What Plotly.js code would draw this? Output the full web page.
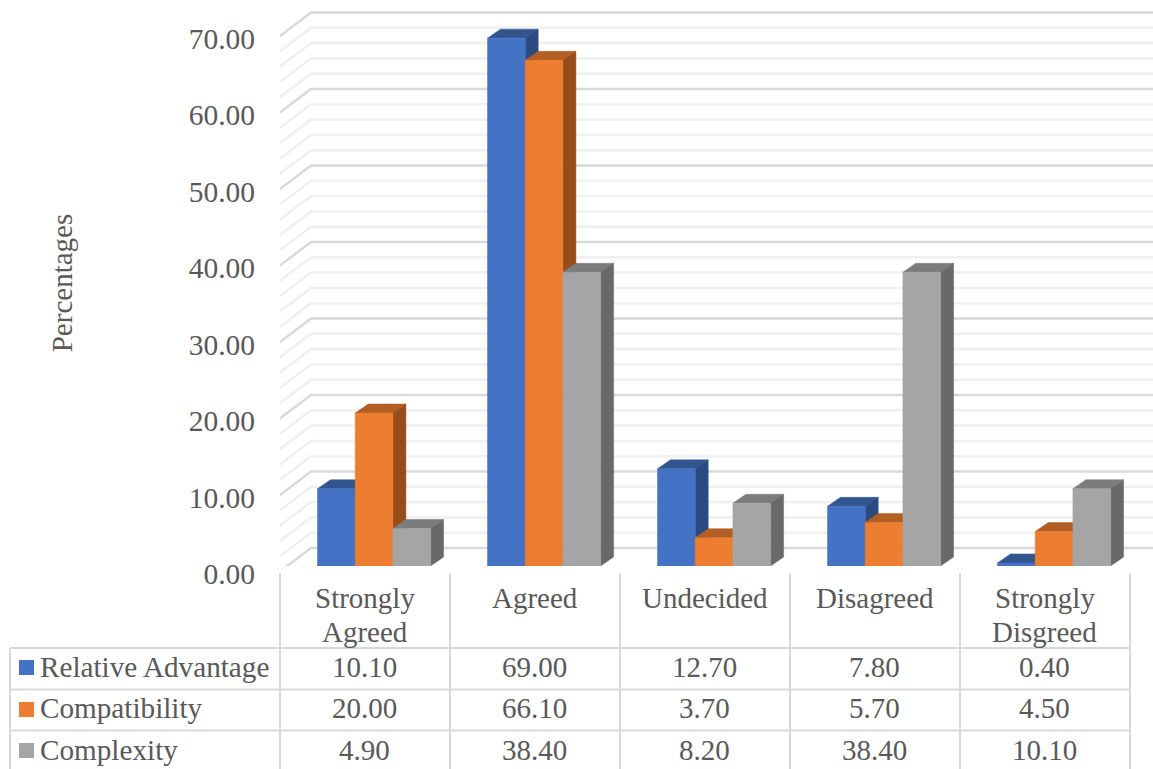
<!DOCTYPE html>
<html>
<head>
<meta charset="utf-8">
<script src="https://cdn.plot.ly/plotly-3.0.1.min.js"></script>
<style>html,body{margin:0;padding:0;background:#fff}</style>
</head>
<body>
<div id="chart" style="width:1153px;height:769px"></div>
<script>
// Survey responses per attribute
const categoryLines = [["Strongly", "Agreed"], ["Agreed"], ["Undecided"], ["Disagreed"], ["Strongly", "Disgreed"]];
const seriesNames = ["Relative Advantage", "Compatibility", "Complexity"];
const relativeAdvantage = [10.10, 69.00, 12.70, 7.80, 0.40];
const compatibility = [20.00, 66.10, 3.70, 5.70, 4.50];
const complexity = [4.90, 38.40, 8.20, 38.40, 10.10];
const majorTicks = [0, 10, 20, 30, 40, 50, 60, 70];
const minorTicks = [2, 4, 6, 8, 12, 14, 16, 18, 22, 24, 26, 28, 32, 34, 36, 38, 42, 44, 46, 48, 52, 54, 56, 58, 62, 64, 66, 68];
const tickLabels = majorTicks.map(v => v.toFixed(2));
const frontColors = ["#4472c4", "#ed7d31", "#a5a5a5"];
const topColors = ["#325590", "#b25e24", "#7c7c7c"];
const sideColors = ["#2a4a80", "#964d1a", "#696969"];

// Plot frame in page pixels
const W = 1153, H = 769, LEFT = 280, BOTTOM = 566, COL = 170, UNIT = 7.65;
const dx = px => px / COL;
const dy = px => px / UNIT;
const xMax = (W - LEFT) / COL;
const yMax = BOTTOM / UNIT;
const xPaper = px => (px - LEFT) / (W - LEFT);
const yPaper = px => (BOTTOM - px) / BOTTOM;

// Oblique projection offsets
const barW = dx(37.7), barStart = dx(37.5), sideX = dx(13), sideY = dy(9);
const wallFrontX = dx(-2), wallBackX = dx(31), wallFrontY = dy(-7), wallBackY = dy(18);

function wallTrace(ticks, color, width) {
  const x = [], y = [];
  ticks.forEach(v => {
    x.push(wallFrontX, wallBackX, xMax, null);
    y.push(v + wallFrontY, v + wallBackY, v + wallBackY, null);
  });
  return {x, y, mode: "lines", line: {color, width}, hoverinfo: "skip", showlegend: false, cliponaxis: false};
}

function faceTrace(values, s, color, corners) {
  const x = [], y = [];
  values.forEach((v, i) => {
    const x0 = i + barStart + s * barW, x1 = x0 + barW;
    corners(x0, x1, v).forEach(p => { x.push(p[0]); y.push(p[1]); });
    x.push(null); y.push(null);
  });
  return {x, y, mode: "lines", fill: "toself", fillcolor: color, line: {color, width: 0.5},
          hoverinfo: "skip", showlegend: false, cliponaxis: false, name: seriesNames[s]};
}

const traces = [wallTrace(minorTicks, "#f0f0f0", 2.5), wallTrace(majorTicks, "#d9d9d9", 2.5)];
[relativeAdvantage, compatibility, complexity].forEach((vals, s) => {
  traces.push(faceTrace(vals, s, topColors[s], (a, b, v) => [[a, v], [b, v], [b + sideX, v + sideY], [a + sideX, v + sideY], [a, v]]));
  traces.push(faceTrace(vals, s, sideColors[s], (a, b, v) => [[b, 0], [b + sideX, sideY], [b + sideX, v + sideY], [b, v], [b, 0]]));
  traces.push(faceTrace(vals, s, frontColors[s], (a, b, v) => [[a, 0], [b, 0], [b, v], [a, v], [a, 0]]));
});

// Data table: grid, legend keys and text
const rowTops = [648, 689.5, 730.5];
const rowCentres = [667, 708.2, 749.5];
const keyCentres = [667.5, 709.5, 750.5];
const tableLine = (x0, y0, x1, y1) => ({type: "line", xref: "paper", yref: "paper",
  x0: xPaper(x0), y0: yPaper(y0), x1: xPaper(x1), y1: yPaper(y1), line: {color: "#d9d9d9", width: 2}});
const shapes = [];
for (let i = 0; i <= categoryLines.length; i++) shapes.push(tableLine(LEFT + i * COL, 573, LEFT + i * COL, H));
shapes.push(tableLine(10, rowTops[0], 10, H));
rowTops.forEach(y => shapes.push(tableLine(10, y, LEFT + categoryLines.length * COL, y)));
keyCentres.forEach((c, r) => shapes.push({type: "rect", xref: "paper", yref: "paper",
  x0: xPaper(19), x1: xPaper(34), y0: yPaper(c + 7.5), y1: yPaper(c - 7.5),
  fillcolor: frontColors[r], line: {width: 0}}));

const font = {family: "Liberation Serif, Times New Roman, serif", size: 29, color: "#595959"};
const note = (text, px, py, anchor, size) => ({text, x: xPaper(px), y: yPaper(py), xref: "paper", yref: "paper",
  xanchor: anchor || "center", yanchor: "middle", showarrow: false, font: Object.assign({}, font, {size: size || font.size})});
const annotations = [];
categoryLines.forEach((lines, i) => lines.forEach((t, k) => annotations.push(note(t, LEFT + (i + 0.5) * COL - 0.5, 598 + k * 33.5))));
seriesNames.forEach((n, r) => annotations.push(note(n, 38, rowCentres[r], "left", 29.2)));
[relativeAdvantage, compatibility, complexity].forEach((vals, r) => vals.forEach((v, i) =>
  annotations.push(note(v.toFixed(2), LEFT + (i + 0.5) * COL - 0.5, rowCentres[r]))));

const layout = {
  width: W, height: H, margin: {l: LEFT, r: 0, t: 0, b: H - BOTTOM, pad: 0},
  paper_bgcolor: "#fff", plot_bgcolor: "#fff", showlegend: false,
  xaxis: {range: [0, xMax], visible: false, fixedrange: true},
  yaxis: {
    range: [0, yMax], fixedrange: true, showgrid: false, zeroline: false, showline: false,
    tickmode: "array", tickvals: majorTicks, ticktext: tickLabels, tickfont: Object.assign({}, font, {size: 29.5}),
    ticks: "outside", ticklen: 18, tickcolor: "rgba(0,0,0,0)", ticklabelshift: 8,
    title: {text: "Percentages", font, standoff: 107}
  },
  shapes, annotations
};
Plotly.newPlot("chart", traces, layout, {displayModeBar: false, staticPlot: true});
</script>
</body>
</html>
